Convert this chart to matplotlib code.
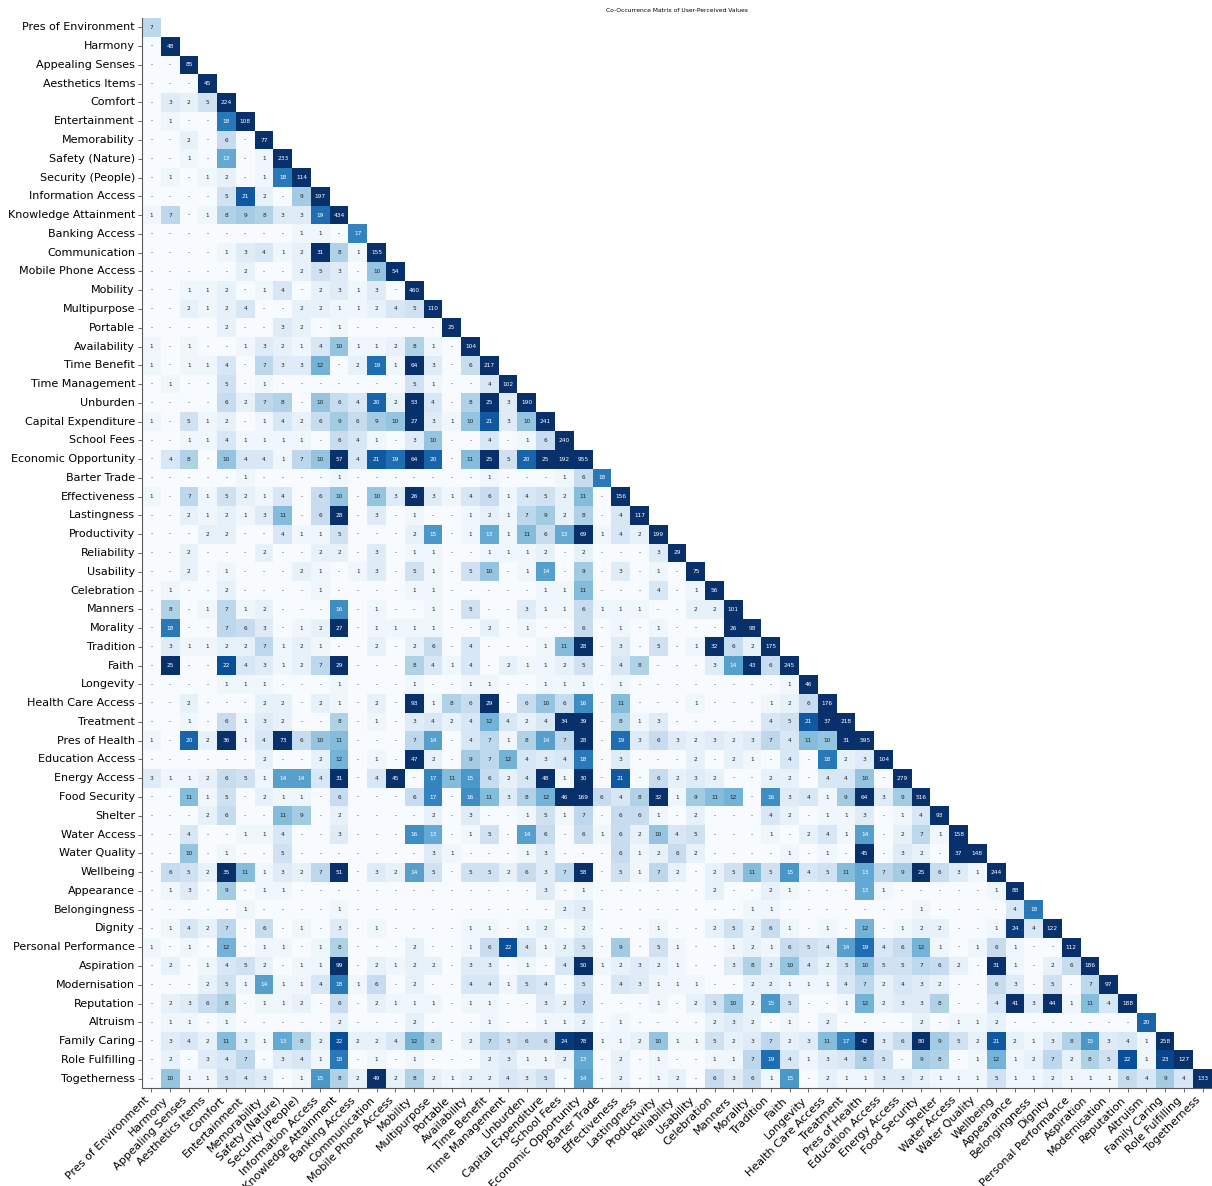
import numpy as np
import pandas as pd
import matplotlib
matplotlib.use("Agg")
import matplotlib.pyplot as plt
import seaborn as sns

labels = [
    "Pres of Environment", "Harmony", "Appealing Senses", "Aesthetics Items",
    "Comfort", "Entertainment", "Memorability", "Safety (Nature)",
    "Security (People)", "Information Access", "Knowledge Attainment",
    "Banking Access", "Communication", "Mobile Phone Access", "Mobility",
    "Multipurpose", "Portable", "Availability", "Time Benefit",
    "Time Management", "Unburden", "Capital Expenditure", "School Fees",
    "Economic Opportunity", "Barter Trade", "Effectiveness", "Lastingness",
    "Productivity", "Reliability", "Usability", "Celebration", "Manners",
    "Morality", "Tradition", "Faith", "Longevity", "Health Care Access",
    "Treatment", "Pres of Health", "Education Access", "Energy Access",
    "Food Security", "Shelter", "Water Access", "Water Quality", "Wellbeing",
    "Appearance", "Belongingness", "Dignity", "Personal Performance",
    "Aspiration", "Modernisation", "Reputation", "Altruism", "Family Caring",
    "Role Fulfilling", "Togetherness",
]

# lower triangle of the co-occurrence counts, row by row (0 is shown as "-")
counts = [
    [7],
    [0, 48],
    [0, 0, 85],
    [0, 0, 0, 45],
    [0, 3, 2, 5, 224],
    [0, 1, 0, 0, 18, 108],
    [0, 0, 2, 0, 6, 0, 77],
    [0, 0, 1, 0, 13, 0, 1, 233],
    [0, 1, 0, 1, 2, 0, 1, 18, 114],
    [0, 0, 0, 0, 5, 21, 2, 0, 9, 197],
    [1, 7, 0, 1, 8, 9, 8, 3, 3, 19, 434],
    [0, 0, 0, 0, 0, 0, 0, 0, 1, 1, 0, 17],
    [0, 0, 0, 0, 1, 3, 4, 1, 2, 31, 8, 1, 155],
    [0, 0, 0, 0, 0, 2, 0, 0, 2, 5, 3, 0, 10, 54],
    [0, 0, 1, 1, 2, 0, 1, 4, 0, 2, 3, 1, 3, 0] + [460],
    [0, 0, 2, 1, 2, 4, 0, 0, 2, 2, 1, 1, 2, 4] + [5, 110],
    [0, 0, 0, 0, 2, 0, 0, 3, 2, 0, 1, 0, 0, 0] + [0, 0, 25],
    [1, 0, 1, 0, 0, 1, 3, 2, 1, 4, 10, 1, 1, 2] + [8, 1, 0, 104],
    [1, 0, 1, 1, 4, 0, 7, 3, 3, 12, 0, 2, 19, 1] + [64, 3, 0, 6, 217],
    [0, 1, 0, 0, 5, 0, 1, 0, 0, 0, 0, 0, 0, 0] + [5, 1, 0, 0, 4, 102],
    [0, 0, 0, 0, 6, 2, 7, 8, 0, 10, 6, 4, 20, 2] + [53, 4, 0, 8, 25, 3, 190],
    [1, 0, 5, 1, 2, 0, 1, 4, 2, 6, 9, 6, 9, 10] + [27, 3, 1, 10, 21, 3, 10, 241],
    [0, 0, 1, 1, 4, 1, 1, 1, 1, 0, 6, 4, 1, 0] + [3, 10, 0, 0, 4, 0, 1, 6, 240],
    [0, 4, 8, 0, 10, 4, 4, 1, 7, 10, 57, 4, 21, 19] + [64, 20, 0, 11, 25, 5, 20, 25, 192, 955],
    [0, 0, 0, 0, 0, 1, 0, 0, 0, 0, 1, 0, 0, 0] + [0, 0, 0, 0, 1, 0, 0, 0, 1, 6, 18],
    [1, 0, 7, 1, 5, 2, 1, 4, 0, 6, 10, 0, 10, 3] + [26, 3, 1, 4, 6, 1, 4, 5, 2, 11, 0, 156],
    [0, 0, 2, 1, 2, 1, 3, 11, 0, 6, 28, 0, 3, 0] + [1, 0, 0, 1, 2, 1, 7, 9, 2, 8, 0, 4, 117],
    [0, 0, 0, 2, 2, 0, 0, 4, 1, 1, 5, 0, 0, 0] + [2, 15, 0, 1, 13, 1, 11, 6, 13, 69, 1, 4, 2, 199],
    [0, 0, 2, 0, 0, 0, 2, 0, 0, 2, 2, 0, 3, 0] + [1, 1, 0, 0, 1, 1, 1, 2, 0, 2, 0, 0, 0, 3] + [29],
    [0, 0, 2, 0, 1, 0, 0, 0, 2, 1, 0, 1, 3, 0] + [5, 1, 0, 5, 10, 0, 1, 14, 0, 9, 0, 3, 0, 1] + [0, 75],
    [0, 1, 0, 0, 2, 0, 0, 0, 0, 1, 0, 0, 0, 0] + [1, 1, 0, 0, 0, 0, 0, 1, 1, 11, 0, 0, 0, 4] + [0, 1, 56],
    [0, 8, 0, 1, 7, 1, 2, 0, 0, 0, 16, 0, 1, 0] + [0, 1, 0, 5, 0, 0, 3, 1, 1, 6, 1, 1, 1, 0] + [0, 2, 2, 101],
    [0, 18, 0, 0, 7, 6, 3, 0, 1, 2, 27, 0, 1, 1] + [1, 1, 0, 0, 2, 0, 1, 0, 0, 6, 0, 1, 0, 1] + [0, 0, 0, 26, 98],
    [0, 3, 1, 1, 2, 2, 7, 1, 2, 1, 0, 0, 2, 0] + [2, 6, 0, 4, 0, 0, 0, 1, 11, 28, 0, 3, 0, 5] + [0, 1, 32, 6, 2, 175],
    [0, 25, 0, 0, 22, 4, 3, 1, 2, 7, 29, 0, 0, 0] + [8, 4, 1, 4, 0, 2, 1, 1, 2, 5, 0, 4, 8, 0] + [0, 0, 3, 14, 43, 6, 245],
    [0, 0, 0, 0, 1, 1, 1, 0, 0, 0, 1, 0, 0, 0] + [1, 0, 0, 1, 1, 0, 0, 1, 1, 1, 0, 1, 0, 0] + [0, 0, 0, 0, 0, 0, 1, 46],
    [0, 0, 2, 0, 0, 0, 2, 2, 0, 2, 1, 0, 2, 0] + [93, 1, 8, 6, 29, 0, 6, 10, 6, 16, 0, 11, 0, 0] + [0, 1, 0, 0, 0, 1, 2, 6, 176],
    [0, 0, 1, 0, 6, 1, 3, 2, 0, 0, 8, 0, 1, 0] + [3, 4, 2, 4, 12, 4, 2, 4, 34, 39, 0, 8, 1, 3] + [0, 0, 0, 0, 0, 4, 5, 21, 37, 218],
    [1, 0, 20, 2, 36, 1, 4, 73, 6, 10, 11, 0, 0, 0] + [7, 14, 0, 4, 7, 1, 8, 14, 7, 28, 0, 19, 3, 6] + [3, 2, 3, 2, 3, 7, 4, 11, 10, 31, 595],
    [0, 0, 0, 0, 0, 0, 2, 0, 0, 2, 12, 0, 1, 0] + [47, 2, 0, 9, 7, 12, 4, 3, 4, 18, 0, 3, 0, 0] + [0, 2, 0, 2, 1, 0, 4, 0, 18, 2, 3, 104],
    [3, 1, 1, 2, 6, 5, 1, 14, 14, 4, 31, 0, 4, 45] + [0, 17, 11, 15, 6, 2, 4, 48, 1, 30, 0, 21, 0, 6] + [2, 3, 2, 0, 0, 2, 2, 0, 4, 4, 10, 0, 279],
    [0, 0, 11, 1, 5, 0, 2, 1, 1, 0, 6, 0, 0, 0] + [6, 17, 0, 16, 11, 3, 8, 12, 46, 169, 6, 4, 8, 32] + [1, 9, 11, 12, 0, 16, 3, 4, 1, 9, 64, 3, 9, 516],
    [0, 0, 0, 2, 6, 0, 0, 11, 9, 0, 2, 0, 0, 0] + [0, 2, 0, 3, 0, 0, 1, 5, 1, 7, 0, 6, 6, 1] + [0, 2, 0, 0, 0, 4, 2, 0, 1, 1, 3, 0, 1, 4] + [93],
    [0, 0, 4, 0, 0, 1, 1, 4, 0, 0, 3, 0, 0, 0] + [16, 13, 0, 1, 5, 0, 14, 6, 0, 6, 1, 6, 2, 10] + [4, 5, 0, 0, 0, 1, 0, 2, 4, 1, 14, 0, 2, 7] + [1, 158],
    [0, 0, 10, 0, 1, 0, 0, 5, 0, 0, 0, 0, 0, 0] + [0, 3, 1, 0, 0, 0, 1, 3, 0, 0, 0, 6, 1, 2] + [6, 2, 0, 0, 0, 0, 1, 0, 1, 0, 45, 0, 3, 2] + [0, 37, 148],
    [0, 6, 5, 2, 35, 11, 1, 3, 2, 7, 51, 0, 3, 2] + [14, 5, 0, 5, 5, 2, 6, 3, 7, 58, 0, 5, 1, 7] + [2, 0, 2, 5, 11, 5, 15, 4, 5, 11, 13, 7, 9, 25] + [6, 3, 1, 244],
    [0, 1, 3, 0, 9, 0, 1, 1, 0, 0, 0, 0, 0, 0] + [0, 0, 0, 0, 0, 0, 0, 3, 0, 1, 0, 0, 0, 0] + [0, 0, 2, 0, 0, 2, 1, 0, 0, 0, 13, 1, 0, 0] + [0, 0, 0, 1, 88],
    [0, 0, 0, 0, 0, 1, 0, 0, 0, 0, 1, 0, 0, 0] + [0, 0, 0, 0, 0, 0, 0, 0, 2, 3, 0, 0, 0, 0] + [0, 0, 0, 0, 1, 1, 0, 0, 0, 0, 0, 0, 0, 1] + [0, 0, 0, 0, 4, 18],
    [0, 1, 4, 2, 7, 0, 6, 0, 1, 0, 3, 0, 1, 0] + [0, 0, 0, 1, 1, 0, 1, 2, 0, 2, 0, 0, 0, 1] + [0, 0, 2, 5, 2, 6, 1, 0, 1, 0, 12, 0, 1, 2] + [2, 0, 0, 1, 24, 4, 122],
    [1, 0, 1, 0, 12, 0, 1, 1, 0, 1, 8, 0, 0, 0] + [2, 0, 0, 1, 6, 22, 4, 1, 2, 5, 0, 9, 0, 5] + [1, 0, 0, 1, 2, 1, 6, 5, 4, 14, 19, 4, 6, 12] + [1, 0, 1, 6, 1, 0, 0, 112],
    [0, 2, 0, 1, 4, 5, 2, 0, 1, 1, 99, 0, 2, 1] + [2, 2, 0, 3, 3, 0, 1, 0, 4, 50, 1, 2, 3, 2] + [1, 0, 0, 3, 8, 3, 10, 4, 2, 5, 10, 5, 5, 7] + [6, 2, 0, 31, 1, 0, 2, 6, 186],
    [0, 0, 0, 2, 5, 1, 14, 1, 1, 4, 18, 1, 6, 0] + [2, 0, 0, 4, 4, 1, 5, 4, 0, 5, 0, 4, 3, 1] + [1, 1, 0, 0, 2, 2, 1, 1, 1, 4, 7, 2, 4, 3] + [2, 0, 0, 6, 3, 0, 5, 0, 7, 97],
    [0, 2, 3, 6, 8, 0, 1, 1, 2, 0, 6, 0, 2, 1] + [1, 1, 0, 1, 1, 0, 0, 3, 2, 7, 0, 0, 0, 1] + [0, 2, 5, 10, 2, 15, 5, 0, 0, 1, 12, 2, 3, 3] + [8, 0, 0, 4, 41, 3, 44, 1, 11, 4, 188],
    [0, 1, 1, 0, 1, 0, 0, 0, 0, 0, 2, 0, 0, 0] + [2, 0, 0, 0, 1, 0, 0, 1, 1, 2, 0, 1, 0, 0] + [0, 0, 2, 3, 2, 0, 1, 0, 2, 0, 0, 0, 0, 2] + [0, 1, 1, 2, 0, 0, 0, 0, 0, 0, 0, 20],
    [0, 3, 4, 2, 11, 3, 1, 13, 8, 2, 22, 2, 2, 4] + [12, 8, 0, 2, 7, 5, 6, 6, 24, 78, 1, 1, 2, 10] + [1, 1, 5, 2, 3, 7, 2, 3, 11, 17, 42, 3, 6, 80] + [9, 5, 2, 21, 2, 1, 3, 8, 15, 3, 4, 1, 258],
    [0, 2, 0, 3, 4, 7, 0, 3, 4, 1, 18, 0, 1, 0] + [1, 0, 0, 0, 2, 3, 1, 1, 2, 13, 0, 2, 0, 1] + [0, 0, 1, 1, 7, 19, 4, 1, 3, 4, 8, 5, 0, 9] + [8, 0, 1, 12, 1, 2, 7, 2, 8, 5, 22, 1, 23, 127],
    [0, 10, 1, 1, 5, 4, 3, 0, 1, 15, 8, 2, 49, 2] + [8, 2, 1, 2, 2, 4, 3, 5, 0, 14, 0, 2, 0, 1] + [2, 0, 6, 3, 6, 1, 15, 0, 2, 1, 1, 3, 3, 2] + [1, 1, 1, 5, 1, 1, 2, 1, 1, 1, 6, 4, 9, 4, 133],
]

n = len(labels)
mat = np.zeros((n, n))
for i, row in enumerate(counts):
    assert len(row) == i + 1, (labels[i], len(row))
    mat[i, :i + 1] = row
    mat[:i + 1, i] = row  # symmetric, upper half gets masked

df = pd.DataFrame(mat, index=labels, columns=labels)
mask = np.triu(np.ones_like(mat, dtype=bool), k=1)
annot = np.where(mat == 0, "-", mat.astype(int).astype(str))

fig = plt.figure(figsize=(12.12, 11.86), dpi=100)
ax = fig.add_axes([142 / 1212, 98 / 1186, 1070 / 1212, 1070 / 1186])
sns.heatmap(df, mask=mask, cmap="Blues", vmin=0, vmax=25, annot=annot, fmt="",
            annot_kws={"size": 4.2}, cbar=False, linewidths=0, ax=ax)

ax.set_title("Co-Occurrence Matrix of User-Perceived Values", fontsize=4.3, pad=4)
ax.set_xticks(np.arange(n) + 0.5)
ax.set_yticks(np.arange(n) + 0.5)
ax.set_xticklabels(labels, rotation=45, ha="right", fontsize=8)
ax.set_yticklabels(labels, rotation=0, fontsize=8)
ax.tick_params(length=3, width=0.6, color="0.3", pad=2)
for side in ["left", "bottom"]:
    ax.spines[side].set_visible(True)
    ax.spines[side].set_color("0.35")
    ax.spines[side].set_linewidth(0.8)

fig.savefig("out.png", dpi=100)
